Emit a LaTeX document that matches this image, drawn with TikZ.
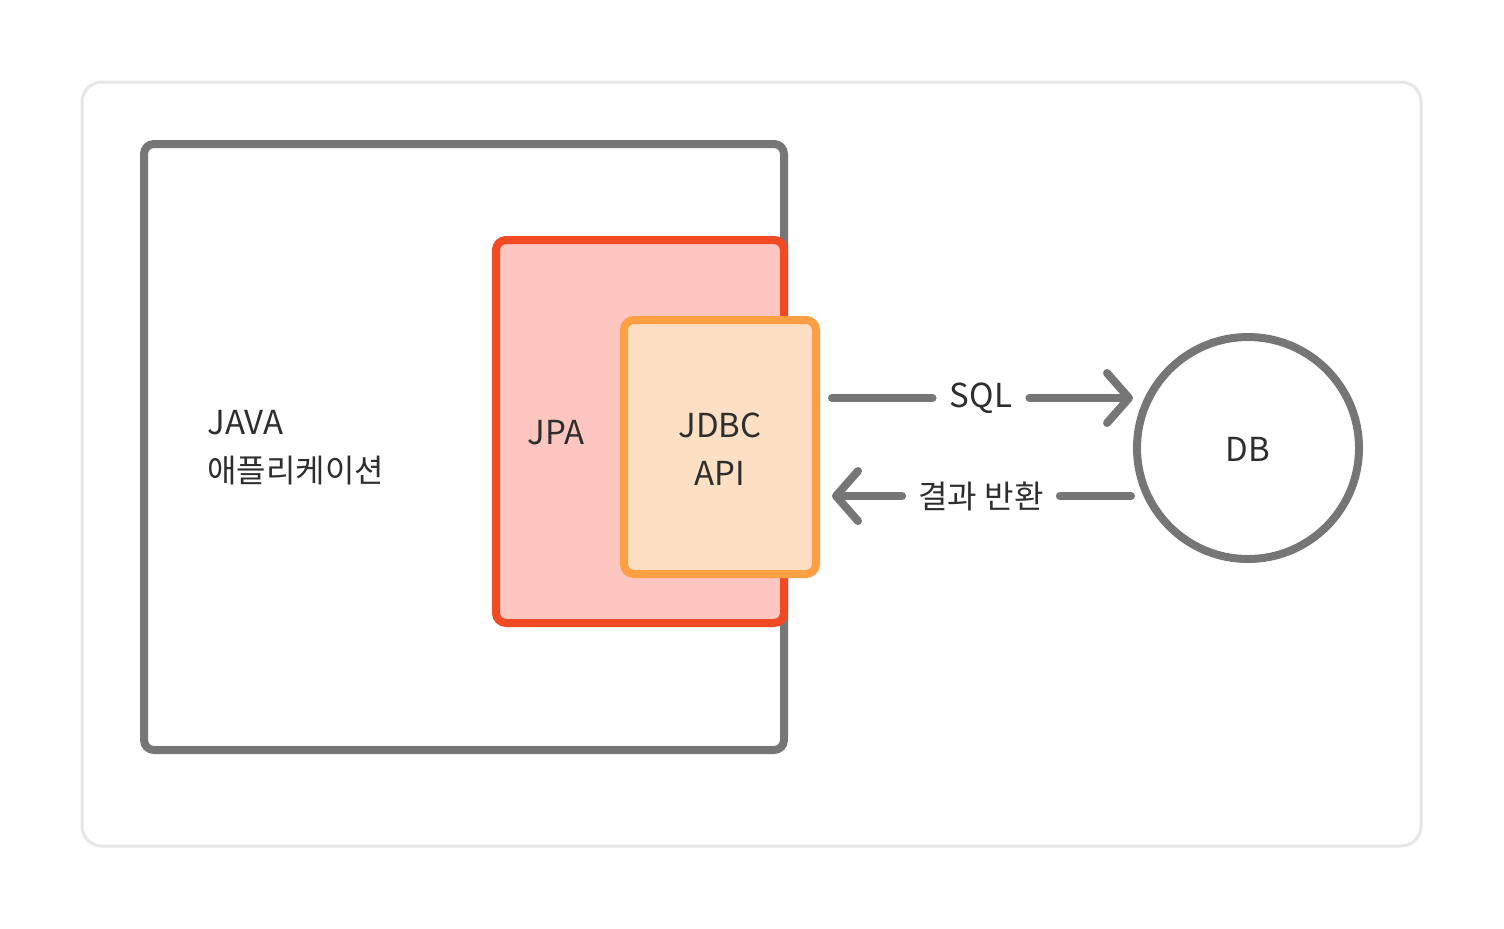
\documentclass[tikz,border=0pt]{standalone}
\usepackage{fontspec}
\setmainfont{Noto Sans CJK KR}
\usetikzlibrary{arrows.meta}
\definecolor{framegray}{HTML}{E6E6E6}
\definecolor{boxgray}{HTML}{767676}
\definecolor{jpared}{HTML}{F24A22}
\definecolor{jpafill}{HTML}{FDC6C1}
\definecolor{jdbcorange}{HTML}{FF9F43}
\definecolor{jdbcfill}{HTML}{FDDFC3}
\definecolor{txt}{HTML}{2E2E2E}
\newcommand{\krtxt}[1]{{\fontsize{16}{24}\selectfont #1}}
\tikzset{
  box/.style={draw, line width=4pt, rounded corners=5pt, inner sep=0pt},
  lbl/.style={text=txt, font=\fontsize{16.5}{24}\selectfont, align=center},
  conn/.style={draw=boxgray, line width=4pt, line cap=round},
  tip/.style={-{Straight Barb[length=11pt, width=25pt, round]}},
  mid/.style={lbl, inner xsep=9.5pt, inner ysep=2pt}
}
\begin{document}
\begin{tikzpicture}[x=0.5pt, y=-0.5pt]
\useasboundingbox (0,0) rectangle (1504,928);
\fill[white] (0,0) rectangle (1504,928);
% outer frame
\draw[framegray, line width=1.5pt, rounded corners=10pt] (82,82) rectangle (1421,846);
% java box
\node[box, draw=boxgray, minimum width=320pt, minimum height=303pt] (java) at (464,447) {};
\node[lbl, align=left, anchor=west, inner xsep=0pt] (javatxt) at (207,448) {JAVA\\\krtxt{애플리케이션}};
% JPA box
\node[box, draw=jpared, fill=jpafill, minimum width=144pt, minimum height=191.5pt] (jpa) at (640,431.5) {};
\node[lbl] (jpatxt) at (556,433) {JPA};
% JDBC box
\node[box, draw=jdbcorange, fill=jdbcfill, minimum width=96pt, minimum height=127pt] (jdbc) at (720,447) {};
\node[lbl] (jdbctxt) at (720,449) {JDBC\\API};
% DB
\node[draw=boxgray, line width=4pt, circle, minimum size=111pt, inner sep=0pt] (db) at (1248,448) {};
\node[lbl] (dbtxt) at (1248,449) {DB};
% connectors
\coordinate (sqlA) at (832,398);
\coordinate (sqlB) at (1133,398);
\coordinate (resA) at (1131,496);
\coordinate (resB) at (832,496);
\node[mid, inner xsep=8.5pt] (sql) at (981,398) {SQL};
\node[mid, inner xsep=8pt] (res) at (981,496) {\krtxt{결과 반환}};
\draw[conn] (sqlA) -- (sql);
\draw[conn, tip] (sql) -- (sqlB);
\draw[conn] (resA) -- (res);
\draw[conn, tip] (res) -- (resB);
\end{tikzpicture}
\end{document}
